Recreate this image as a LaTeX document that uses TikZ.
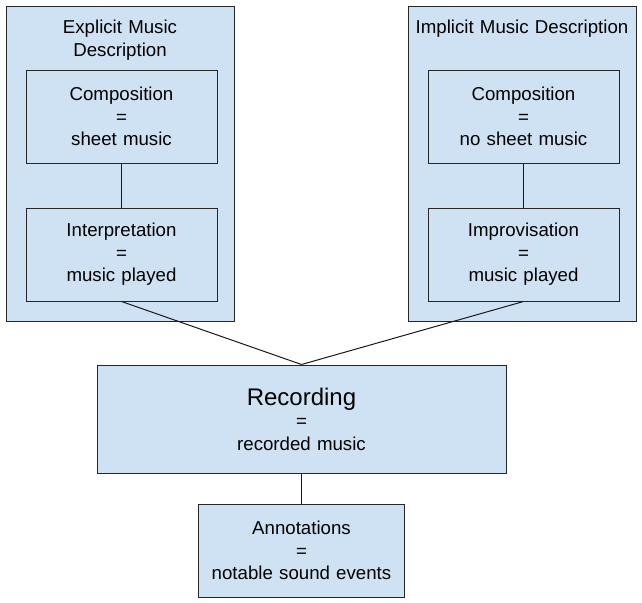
\documentclass[tikz,border=0pt]{standalone}
\usepackage{fontspec}
\setmainfont{Liberation Sans}
\usetikzlibrary{positioning,calc}
\definecolor{boxblue}{HTML}{CFE2F3}
\newcommand{\bodysize}{\fontsize{18.67}{22.5}\selectfont}
\tikzstyle{area}=[draw=black!85, fill=boxblue, line width=1pt,
  minimum width=228pt, minimum height=314pt, inner sep=0pt]
\tikzstyle{heading}=[text width=220pt, text centered, inner sep=0pt,
  font=\bodysize]
\tikzstyle{stage}=[draw=black!85, fill=boxblue, line width=1pt,
  text width=185pt, text centered, minimum width=191pt,
  minimum height=93pt, inner sep=3pt, font=\bodysize]
\tikzstyle{result}=[stage, text width=400pt, minimum width=409pt,
  minimum height=108pt]
\tikzstyle{link}=[draw, line width=1pt, color=black!90]
\newcommand{\stagebox}[3]{node (#1) [stage] {#2\\=\\#3}}

\begin{document}
\begin{tikzpicture}[x=1pt,y=-1pt]
  \useasboundingbox (0,0) rectangle (642,602);

  % explicit description area
  \node (EXPLICIT) [area] at (120,164) {};
  \node (EXPTITLE) [heading] at (120,40) {Explicit Music\\Description};
  \path (121.5,116.5) \stagebox{EXPCOMP}{Composition}{sheet music};
  \node (EXPINTERP) [stage, below=44pt of EXPCOMP] {Interpretation\\=\\music played};

  % implicit description area
  \node (IMPLICIT) [area] at (522,164) {};
  \node (IMPTITLE) [heading] at (522,29) {Implicit Music Description};
  \path (523.5,116.5) \stagebox{IMPCOMP}{Composition}{no sheet music};
  \node (IMPIMPROV) [stage, below=44pt of IMPCOMP] {Improvisation\\=\\music played};

  % recording and annotations
  \node (RECORDING) [result] at (301.5,419)
    {{\fontsize{24}{30}\selectfont Recording}\\=\\recorded music};
  \node (ANNOT) [stage, text width=200pt, minimum width=206pt,
    below=30pt of RECORDING] {Annotations\\=\\notable sound events};

  % connectors
  \path [link] (EXPCOMP.south) -- (EXPINTERP.north);
  \path [link] (IMPCOMP.south) -- (IMPIMPROV.north);
  \path [link] (EXPINTERP.south) -- (RECORDING.north);
  \path [link] (IMPIMPROV.south) -- (RECORDING.north);
  \path [link] (RECORDING.south) -- (ANNOT.north);
\end{tikzpicture}
\end{document}
